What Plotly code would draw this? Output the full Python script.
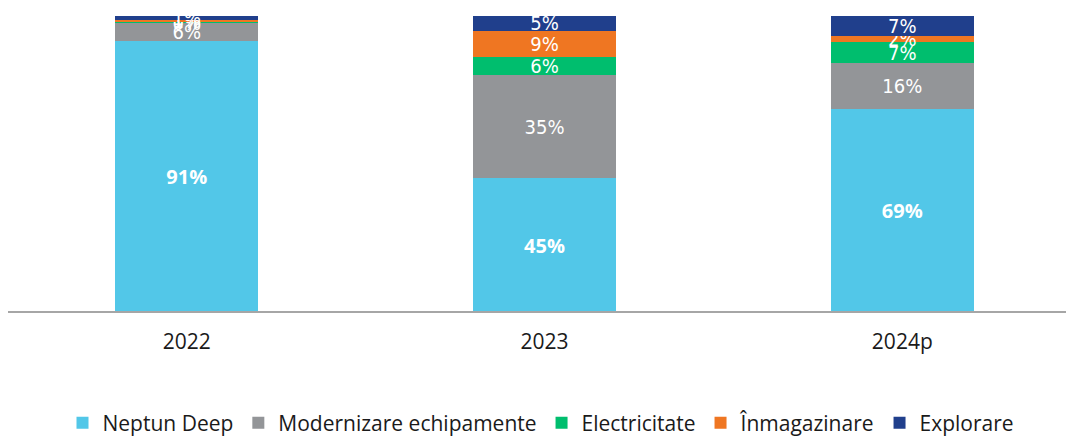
import plotly.graph_objects as go

# ani si categorii
ani = ["2022", "2023", "2024p"]
neptun = [91, 45, 69]
modernizare = [6.2, 35, 16]
electricitate = [0.2, 6, 7]
inmagazinare = [0.7, 9, 2]
explorare = [1.4, 5, 7]

serii = [
    ("Neptun Deep", neptun, "#52C7E8", True),
    ("Modernizare echipamente", modernizare, "#939598", False),
    ("Electricitate", electricitate, "#00BE6E", False),
    ("Înmagazinare", inmagazinare, "#EF7622", False),
    ("Explorare", explorare, "#203F8C", False),
]

fig = go.Figure()
for nume, valori, culoare, bold in serii:
    if bold:
        font_text = dict(color="white", size=22, family="Open Sans", weight="bold")
    else:
        font_text = dict(color="white", size=20, family="DejaVu Sans Condensed")
    fig.add_trace(go.Bar(
        name=nume, x=ani, y=valori,
        marker=dict(color=culoare, line=dict(width=0)),
        text=[f"{round(v)}%" for v in valori],
        texttemplate="%{text}",
        textposition="inside", insidetextanchor="middle",
        insidetextfont=font_text,
        constraintext="none", cliponaxis=False,
    ))

# pagina are margine de 8px in body, asa ca figura e putin mai mica
fig.update_layout(
    barmode="stack", barnorm="percent", bargap=0.6,
    width=1066, height=429,
    margin=dict(l=0, r=0, t=8, b=126, autoexpand=False),
    plot_bgcolor="white", paper_bgcolor="white",
    uniformtext=dict(mode="show", minsize=20),
    font=dict(family="Open Sans", color="#1a1a1a"),
    xaxis=dict(range=[-0.5, 2.48], showline=True, linecolor="#A6A6A6", linewidth=2,
               ticks="", ticklabelstandoff=11, tickfont=dict(size=21, color="#1a1a1a")),
    yaxis=dict(range=[0, 100], visible=False),
    legend=dict(orientation="h", x=0.5, xanchor="center", y=-0.38, yanchor="middle",
                font=dict(size=21, color="#1a1a1a"), traceorder="normal",
                itemwidth=30, tracegroupgap=0),
    showlegend=True,
)

fig.write_html("out.html")
